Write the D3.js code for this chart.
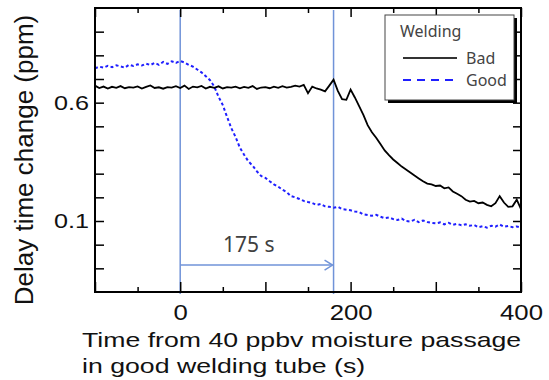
<!DOCTYPE html>
<html>
<head>
<meta charset="utf-8">
<script src="https://cdn.jsdelivr.net/npm/d3@7"></script>
<style>
  body { margin: 0; background: #fff; }
  svg { display: block; }
</style>
</head>
<body>
<div id="chart"></div>
<script>
// Time axis samples (s), every 5 s
const times = d3.range(-100, 401, 5);

// Bad welding tube (black solid)
const badValues = [
  0.672, 0.662, 0.668, 0.660, 0.667, 0.663, 0.670, 0.661, 0.666, 0.664,
  0.669, 0.660, 0.667, 0.673, 0.662, 0.665, 0.659, 0.666, 0.664, 0.670,
  0.662, 0.672, 0.658, 0.668, 0.665, 0.671, 0.660, 0.667, 0.663, 0.669,
  0.660, 0.666, 0.664, 0.668, 0.661, 0.667, 0.663, 0.670, 0.658, 0.664,
  0.666, 0.661, 0.668, 0.663, 0.670, 0.664, 0.667, 0.672, 0.668, 0.675,
  0.640, 0.668, 0.660, 0.655, 0.648, 0.672, 0.697, 0.650, 0.615, 0.612,
  0.655, 0.622, 0.585, 0.548, 0.505, 0.475, 0.452, 0.425, 0.398, 0.378,
  0.360, 0.345, 0.330, 0.318, 0.305, 0.292, 0.280, 0.268, 0.258, 0.255,
  0.248, 0.250, 0.238, 0.242, 0.225, 0.215, 0.205, 0.190, 0.182, 0.185,
  0.175, 0.178, 0.168, 0.162, 0.175, 0.205, 0.178, 0.160, 0.162, 0.190,
  0.150
];

// Good welding tube (blue dashed)
const goodValues = [
  0.745, 0.752, 0.748, 0.756, 0.750, 0.758, 0.753, 0.748, 0.760, 0.755,
  0.762, 0.757, 0.765, 0.759, 0.768, 0.760, 0.772, 0.764, 0.775, 0.768,
  0.776, 0.770, 0.760, 0.752, 0.740, 0.728, 0.712, 0.695, 0.668, 0.625,
  0.590, 0.540, 0.492, 0.455, 0.410, 0.380, 0.352, 0.334, 0.310, 0.290,
  0.282, 0.268, 0.255, 0.245, 0.232, 0.222, 0.205, 0.200, 0.193, 0.185,
  0.180, 0.176, 0.168, 0.172, 0.162, 0.160, 0.156, 0.160, 0.150, 0.148,
  0.145, 0.140, 0.138, 0.128, 0.125, 0.122, 0.126, 0.118, 0.112, 0.115,
  0.108, 0.104, 0.110, 0.100, 0.098, 0.105, 0.095, 0.102, 0.096, 0.092,
  0.090, 0.094, 0.086, 0.092, 0.084, 0.088, 0.082, 0.086, 0.080, 0.083,
  0.074, 0.078, 0.072, 0.080, 0.076, 0.085, 0.076, 0.079, 0.074, 0.077,
  0.072
];

// Axis ticks
const xMajorTicks = [-100, 0, 100, 200, 300, 400];
const xMinorTicks = [-50, 50, 150, 250, 350];
const xTickLabels = [0, 200, 400];
const yTicks = [-0.1, 0.0, 0.1, 0.2, 0.3, 0.4, 0.5, 0.6, 0.7, 0.8, 0.9];
const yTickLabels = [0.1, 0.6];

// Annotation
const markerTimes = [0, 180];
const arrowLevel = -0.086;
const arrowText = "175 s";

const width = 549, height = 380;
const mLeft = 95, mRight = 521, mTop = 8, mBottom = 292;

const svg = d3.select("#chart").append("svg")
  .attr("width", width)
  .attr("height", height);

const x = d3.scaleLinear().domain([-100, 400]).range([mLeft, mRight]);
const y = d3.scaleLinear().domain([-0.2, 1.0]).range([mBottom, mTop]);

const axisFont = "Liberation Sans, Arial, sans-serif";
const noteFont = "Noto Sans, sans-serif";

// marker lines
const blueLine = "#7093d8";
svg.selectAll(".marker")
  .data(markerTimes)
  .enter().append("line")
  .attr("x1", d => x(d)).attr("x2", d => x(d))
  .attr("y1", mTop + 2).attr("y2", mBottom + 2)
  .attr("stroke", blueLine)
  .attr("stroke-width", 1.5);

// arrow
const ay = y(arrowLevel);
const ax1 = x(markerTimes[0]), ax2 = x(markerTimes[1]);
svg.append("line")
  .attr("x1", ax1).attr("x2", ax2 - 1)
  .attr("y1", ay).attr("y2", ay)
  .attr("stroke", blueLine).attr("stroke-width", 1.5);
svg.append("path")
  .attr("d", `M${ax2 - 9},${ay - 5}L${ax2 - 1},${ay}L${ax2 - 9},${ay + 5}`)
  .attr("fill", "none")
  .attr("stroke", blueLine).attr("stroke-width", 1.5);
svg.append("text")
  .attr("x", (ax1 + ax2) / 2 - 8)
  .attr("y", ay - 13)
  .attr("text-anchor", "middle")
  .attr("font-family", noteFont)
  .attr("font-size", 21)
  .attr("fill", "#404040")
  .text(arrowText);

// series
const line = d3.line()
  .x((d, i) => x(times[i]))
  .y(d => y(d));

svg.append("path")
  .datum(goodValues)
  .attr("d", line)
  .attr("fill", "none")
  .attr("stroke", "#1f1fff")
  .attr("stroke-width", 2)
  .attr("stroke-dasharray", "3,2.5");

svg.append("path")
  .datum(badValues)
  .attr("d", line)
  .attr("fill", "none")
  .attr("stroke", "#000")
  .attr("stroke-width", 1.8);

// axes: ticks pointing inward on all four sides
function styleAxis(g) {
  g.select(".domain").remove();
  g.selectAll(".tick line").attr("stroke", "#000").attr("stroke-width", 1.5);
}

svg.append("g")
  .attr("transform", `translate(0,${mBottom})`)
  .call(d3.axisBottom(x).tickValues(xMajorTicks).tickSize(-10)
    .tickFormat(d => xTickLabels.includes(d) ? d : "").tickPadding(12))
  .call(styleAxis)
  .call(g => g.selectAll("text")
    .attr("font-family", axisFont).attr("font-size", 22).attr("fill", "#111")
    .attr("transform", "scale(1.17,1)"));

svg.append("g")
  .attr("transform", `translate(0,${mBottom})`)
  .call(d3.axisBottom(x).tickValues(xMinorTicks).tickSize(-5).tickFormat(""))
  .call(styleAxis);

svg.append("g")
  .attr("transform", `translate(0,${mTop})`)
  .call(d3.axisTop(x).tickValues(xMajorTicks).tickSize(-9).tickFormat(""))
  .call(styleAxis);

svg.append("g")
  .attr("transform", `translate(0,${mTop})`)
  .call(d3.axisTop(x).tickValues(xMinorTicks).tickSize(-5).tickFormat(""))
  .call(styleAxis);

svg.append("g")
  .attr("transform", `translate(${mLeft},0)`)
  .call(d3.axisLeft(y).tickValues(yTicks).tickSize(-9)
    .tickFormat(d => yTickLabels.some(v => Math.abs(v - d) < 1e-9) ? d3.format(".1f")(d) : "")
    .tickPadding(5))
  .call(styleAxis)
  .call(g => g.selectAll("text")
    .attr("font-family", axisFont).attr("font-size", 21).attr("fill", "#111")
    .attr("transform", "scale(1.2,1)"));

svg.append("g")
  .attr("transform", `translate(${mRight},0)`)
  .call(d3.axisRight(y).tickValues(yTicks).tickSize(-8).tickFormat(""))
  .call(styleAxis);

// frame
svg.append("rect")
  .attr("x", mLeft).attr("y", mTop)
  .attr("width", mRight - mLeft).attr("height", mBottom - mTop)
  .attr("fill", "none")
  .attr("stroke", "#000")
  .attr("stroke-width", 2);

// legend
const lg = svg.append("g").attr("transform", "translate(385,15)");
lg.append("rect").attr("x", 3).attr("y", 3).attr("width", 129).attr("height", 85).attr("fill", "#000");
lg.append("rect").attr("width", 129).attr("height", 85)
  .attr("fill", "#fff").attr("stroke", "#444").attr("stroke-width", 1);
lg.append("text").attr("x", 15).attr("y", 22)
  .attr("font-family", noteFont).attr("font-size", 16).attr("fill", "#444")
  .text("Welding");
const legendItems = [
  {name: "Bad", color: "#333", dash: null},
  {name: "Good", color: "#1f1fff", dash: "8,6"}
];
legendItems.forEach((d, i) => {
  const ly = 43 + i * 22;
  lg.append("line")
    .attr("x1", 18).attr("x2", 72).attr("y1", ly).attr("y2", ly)
    .attr("stroke", d.color).attr("stroke-width", 2)
    .attr("stroke-dasharray", d.dash);
  lg.append("text").attr("x", 81).attr("y", ly + 6)
    .attr("font-family", noteFont).attr("font-size", 16).attr("fill", "#444")
    .text(d.name);
});

// axis titles
svg.append("text")
  .attr("transform", "translate(33,160) rotate(-90)")
  .attr("text-anchor", "middle")
  .attr("font-family", axisFont)
  .attr("font-size", 26)
  .attr("fill", "#111")
  .text("Delay time change (ppm)");

const xt = svg.append("g").attr("transform", "translate(82,347) scale(1.27,1)");
xt.append("text").attr("x", 0).attr("y", 0)
  .attr("font-family", axisFont).attr("font-size", 21).attr("fill", "#111")
  .text("Time from 40 ppbv moisture passage");
xt.append("text").attr("x", 0).attr("y", 26)
  .attr("font-family", axisFont).attr("font-size", 21).attr("fill", "#111")
  .text("in good welding tube (s)");
</script>
</body>
</html>
